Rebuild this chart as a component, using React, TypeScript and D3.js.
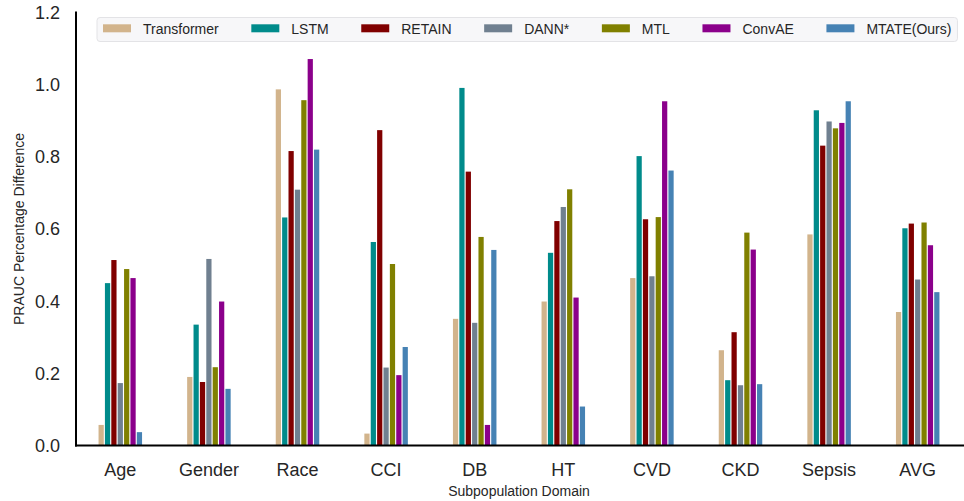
import React from "react";
import * as d3 from "d3";

// Subpopulation domains on the x axis
const categories = ["Age", "Gender", "Race", "CCI", "DB", "HT", "CVD", "CKD", "Sepsis", "AVG"];

// PRAUC percentage difference per model, one value per domain
const transformer = [0.057, 0.19, 0.987, 0.033, 0.351, 0.399, 0.464, 0.264, 0.585, 0.37];
const lstm = [0.45, 0.335, 0.632, 0.564, 0.991, 0.534, 0.802, 0.181, 0.929, 0.602];
const retain = [0.514, 0.176, 0.816, 0.874, 0.759, 0.622, 0.627, 0.314, 0.831, 0.615];
const dann = [0.173, 0.517, 0.709, 0.216, 0.34, 0.661, 0.469, 0.167, 0.898, 0.46];
const mtl = [0.489, 0.217, 0.957, 0.503, 0.578, 0.71, 0.633, 0.59, 0.879, 0.618];
const convae = [0.464, 0.399, 1.071, 0.195, 0.057, 0.41, 0.954, 0.543, 0.894, 0.555];
const mtate = [0.037, 0.157, 0.82, 0.273, 0.542, 0.108, 0.762, 0.17, 0.954, 0.425];

const seriesNames = ["Transformer", "LSTM", "RETAIN", "DANN*", "MTL", "ConvAE", "MTATE(Ours)"];
const seriesValues = [transformer, lstm, retain, dann, mtl, convae, mtate];
const seriesColors = ["#d2b48c", "#008b8b", "#800000", "#708090", "#808000", "#8b008b", "#4682b4"];

const yTicks = [0, 0.2, 0.4, 0.6, 0.8, 1.0, 1.2];

const W = 964;
const H = 501;
const FONT = "'Liberation Sans', Arial, Helvetica, sans-serif";
const TEXT = "#262626";

function measure(text: string, size: number): number {
  const c = document.createElement("canvas").getContext("2d");
  if (!c) return text.length * size * 0.55;
  c.font = `${size}px 'Liberation Sans', Arial, sans-serif`;
  return c.measureText(text).width;
}

export default function App() {
  const left = 76;
  const right = 962;
  const top = 12.5;
  const bottom = 445.5;

  const x = d3.scaleBand<string>().domain(categories).range([left, right]).padding(0);
  const groupW = x.step() * 0.504;
  const x1 = d3
    .scaleBand<string>()
    .domain(seriesNames)
    .range([-groupW / 2, groupW / 2])
    .paddingInner(0.18)
    .paddingOuter(0.09);
  const y = d3.scaleLinear().domain([0, 1.2]).range([bottom, top]);
  const fmt = d3.format(".1f");

  // Legend layout: patch, label, then column gap
  const legendX = 97;
  const legendY = 17.5;
  const patchW = 28;
  const patchH = 8;
  const labelGap = 12;
  const colGap = 32.6;
  let cursor = legendX + 6;
  const legendItems = seriesNames.map((name, i) => {
    const item = { name, color: seriesColors[i], x: cursor };
    cursor += patchW + labelGap + measure(name, 14) + colGap;
    return item;
  });
  const legendW = cursor - colGap + 6 - legendX;

  return (
    <svg
      width={W}
      height={H}
      style={{ position: "absolute", left: 0, top: 0, background: "#ffffff" }}
      fontFamily={FONT}
    >
      {/* bars */}
      {seriesNames.map((name, si) => (
        <g key={name} fill={seriesColors[si]}>
          {categories.map((cat, ci) => {
            const v = seriesValues[si][ci];
            const cx = (x(cat) ?? 0) + x.bandwidth() / 2;
            return (
              <rect
                key={cat}
                x={cx + (x1(name) ?? 0)}
                y={y(v)}
                width={x1.bandwidth()}
                height={y(0) - y(v)}
              />
            );
          })}
        </g>
      ))}

      {/* spines */}
      <line x1={left} x2={left} y1={top - 1} y2={bottom + 1} stroke="#000" strokeWidth={2} />
      <line x1={left - 1} x2={W} y1={bottom} y2={bottom} stroke="#000" strokeWidth={2} />

      {/* y tick labels */}
      {yTicks.map((t) => (
        <text
          key={t}
          x={60}
          y={y(t)}
          dy="0.36em"
          textAnchor="end"
          fontSize={18}
          fill={TEXT}
        >
          {fmt(t)}
        </text>
      ))}

      {/* x tick labels */}
      {categories.map((cat) => (
        <text
          key={cat}
          x={(x(cat) ?? 0) + x.bandwidth() / 2}
          y={475.5}
          textAnchor="middle"
          fontSize={18}
          fill={TEXT}
        >
          {cat}
        </text>
      ))}

      {/* axis titles */}
      <text x={(left + right) / 2} y={496} textAnchor="middle" fontSize={14} fill={TEXT}>
        Subpopulation Domain
      </text>
      <text
        transform={`translate(23.5, ${(top + bottom) / 2}) rotate(-90)`}
        textAnchor="middle"
        fontSize={14}
        fill={TEXT}
      >
        PRAUC Percentage Difference
      </text>

      {/* legend */}
      <rect
        x={legendX}
        y={legendY}
        width={legendW}
        height={24}
        rx={3}
        fill="#f7f7f9"
        stroke="#e3e3e6"
        strokeWidth={1}
      />
      {legendItems.map((it) => (
        <g key={it.name}>
          <rect x={it.x} y={24.3} width={patchW} height={patchH} fill={it.color} />
          <text x={it.x + patchW + labelGap} y={34} fontSize={14} fill={TEXT}>
            {it.name}
          </text>
        </g>
      ))}
    </svg>
  );
}
